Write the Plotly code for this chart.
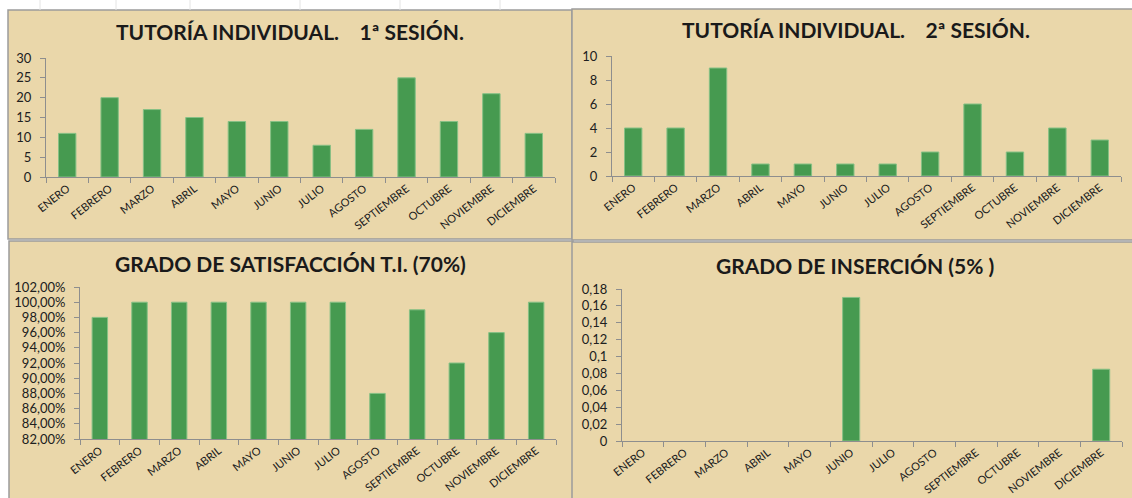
import plotly.graph_objects as go

W, H = 1132, 498

months = ["ENERO", "FEBRERO", "MARZO", "ABRIL", "MAYO", "JUNIO", "JULIO",
          "AGOSTO", "SEPTIEMBRE", "OCTUBRE", "NOVIEMBRE", "DICIEMBRE"]
sesion1 = [11, 20, 17, 15, 14, 14, 8, 12, 25, 14, 21, 11]
sesion2 = [4, 4, 9, 1, 1, 1, 1, 2, 6, 2, 4, 3]
satisfaccion = [0.98, 1.00, 1.00, 1.00, 1.00, 1.00, 1.00, 0.88, 0.99, 0.92, 0.96, 1.00]
insercion = [0, 0, 0, 0, 0, 0.17, 0, 0, 0, 0, 0, 0.085]
insercion_ticks = [0, 0.02, 0.04, 0.06, 0.08, 0.1, 0.12, 0.14, 0.16, 0.18]
insercion_ticktext = ["0", "0,02", "0,04", "0,06", "0,08", "0,1", "0,12", "0,14", "0,16", "0,18"]

titles = ["TUTORÍA INDIVIDUAL.\u00a0\u00a0\u00a0 1ª SESIÓN.",
          "TUTORÍA INDIVIDUAL.\u00a0\u00a0\u00a0 2ª SESIÓN.",
          "GRADO DE SATISFACCIÓN T.I. (70%)",
          "GRADO DE INSERCIÓN (5% )"]

BEIGE = "#EAD7AA"
GREEN = "#469A50"
EDGE = "#86C085"
AX = "#8E8E8E"
TXT = "#202020"
FONT = "Lato"


def px(x0, x1):
    return [x0 / W, x1 / W]


def py(ytop, ybot):
    return [1 - ybot / H, 1 - ytop / H]


fig = go.Figure()

series = [sesion1, sesion2, satisfaccion, insercion]
bar_w = [0.41, 0.41, 0.39, 0.41]
for i, vals in enumerate(series):
    n = "" if i == 0 else str(i + 1)
    lw = [1 if v else 0 for v in vals]
    fig.add_trace(go.Bar(x=months, y=vals, xaxis="x" + n, yaxis="y" + n,
                         marker=dict(color=GREEN, line=dict(color=EDGE, width=lw)),
                         width=bar_w[i], showlegend=False, hoverinfo="skip"))

# panel backgrounds (pixel boxes)
panels = [(8, 10, 572, 239), (572, 9, 1134, 240), (9, 241, 573, 500), (572, 242, 1134, 500)]
shapes = []
for (x0, y0, x1, y1) in panels:
    shapes.append(dict(type="rect", xref="paper", yref="paper",
                       x0=x0 / W, x1=x1 / W, y0=1 - y1 / H, y1=1 - y0 / H,
                       fillcolor=BEIGE, line=dict(color="#9C9C9C", width=1.5),
                       layer="below"))
# faint spreadsheet grid lines at top
for gx in [40, 116, 190, 300, 400, 500]:
    shapes.append(dict(type="line", xref="paper", yref="paper",
                       x0=gx / W, x1=gx / W, y0=1 - 10 / H, y1=1,
                       line=dict(color="#E4E4E4", width=1), layer="below"))

ann = []
title_pos = [(290, 31), (856, 30), (290, 263), (855, 265)]
for t, (cx, cy) in zip(titles, title_pos):
    ann.append(dict(text="<b>" + t + "</b>", xref="paper", yref="paper",
                    x=cx / W, y=1 - cy / H, showarrow=False,
                    xanchor="center", yanchor="middle",
                    font=dict(family=FONT, size=21, color="#1A1A1A")))

xdom = [px(46, 555), px(612, 1121), px(80, 556), px(622, 1122)]
ydom = [py(58, 177), py(56, 176), py(287, 439), py(289, 441)]

xcommon = dict(showline=True, linecolor=AX, linewidth=1, ticks="outside",
               tickcolor=AX, ticklen=5, tickson="boundaries", tickangle=-38,
               showgrid=False, zeroline=False, automargin=False,
               ticklabelstandoff=0,
               tickfont=dict(family=FONT, size=11, color=TXT), fixedrange=True)
ycommon = dict(showline=True, linecolor=AX, linewidth=1, ticks="outside",
               tickcolor=AX, ticklen=5, showgrid=False, zeroline=False,
               automargin=False, ticklabelstandoff=6,
               tickfont=dict(family=FONT, size=13, color=TXT), fixedrange=True)

layout = dict(width=W, height=H, margin=dict(l=0, r=0, t=0, b=0, autoexpand=False),
              paper_bgcolor="white", plot_bgcolor="rgba(0,0,0,0)",
              separators=",.", bargap=0.59, shapes=shapes, annotations=ann,
              font=dict(family=FONT))

yspecs = [dict(range=[0, 30], dtick=5, tick0=0),
          dict(range=[0, 10], dtick=2, tick0=0),
          dict(range=[0.82, 1.02], dtick=0.02, tick0=0.82, tickformat=".2%"),
          dict(range=[0, 0.18], tickmode="array", tickvals=insercion_ticks,
               ticktext=insercion_ticktext)]

for i in range(4):
    n = "" if i == 0 else str(i + 1)
    xa = dict(xcommon, domain=xdom[i], anchor="y" + n)
    ya = dict(ycommon, domain=ydom[i], anchor="x" + n, **yspecs[i])
    layout["xaxis" + n] = xa
    layout["yaxis" + n] = ya

fig.update_layout(**layout)
fig.write_html("out.html", config={"displayModeBar": False},
               post_script="document.body.style.margin='0';document.body.style.overflow='hidden';")
